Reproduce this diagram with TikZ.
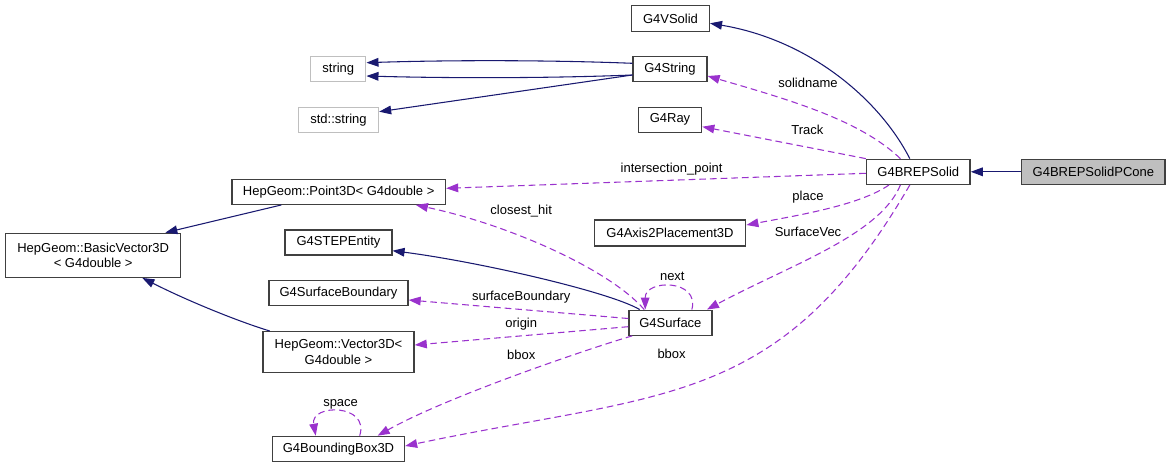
\documentclass[tikz,border=0pt]{standalone}
\usepackage{fontspec}
\setmainfont{Liberation Sans}
\usetikzlibrary{arrows.meta,calc}
\definecolor{navy}{HTML}{191970}
\definecolor{purp}{HTML}{9A32CD}
\definecolor{lgray}{HTML}{BFBFBF}
\begin{document}
\begin{tikzpicture}[x=0.75pt,y=-0.75pt,
 every node/.style={font=\fontsize{9.75}{11.5}\selectfont},
 box/.style={draw=black!75,line width=1pt,fill=white,inner sep=0pt,minimum height=18.75pt,align=center},
 ext/.style={box,draw=lgray},
 inh/.style={draw=navy,line width=0.8pt,-{Triangle[length=9pt,width=6.5pt]}},
 use/.style={draw=purp,line width=0.8pt,dash pattern=on 5pt off 3pt,-{Triangle[length=9pt,width=6.5pt]}},
 lab/.style={inner sep=0pt}]
\useasboundingbox (0,0) rectangle (1171,468);
% nodes
\node[box,minimum width=58.3pt,minimum height=19.5pt] (vsolid) at (670.5,18.7) {G4VSolid};
\node[box,minimum width=55.5pt] (g4string) at (670,69.2) {G4String};
\node[ext,minimum width=41.25pt] (string) at (338.3,69.2) {string};
\node[ext,minimum width=60pt] (stdstring) at (338.5,119.8) {std::string};
\node[box,minimum width=47.5pt] (ray) at (670,119.7) {G4Ray};
\node[box,minimum width=160.2pt] (point3d) at (338.7,191.8) {HepGeom::Point3D< G4double >};
\node[box,minimum width=77.7pt] (brep) at (918.3,171.8) {G4BREPSolid};
\node[box,fill=lgray,minimum width=107.4pt] (pcone) at (1093.4,171.8) {G4BREPSolidPCone};
\node[box,minimum width=113.6pt,minimum height=19.5pt] (axis) at (670,233) {G4Axis2Placement3D};
\node[box,minimum width=131.25pt,minimum height=33pt] (basic) at (93.2,255.3) {HepGeom::BasicVector3D\\< G4double >};
\node[box,minimum width=80.1pt] (step) at (338.5,242.5) {G4STEPEntity};
\node[box,minimum width=104.25pt] (sbound) at (338.5,293.3) {G4SurfaceBoundary};
\node[box,minimum width=62.25pt] (surface) at (670.4,322.7) {G4Surface};
\node[box,minimum width=113.4pt,minimum height=30.5pt] (vector) at (338.5,352) {HepGeom::Vector3D<\\G4double >};
\node[box,minimum width=99pt,minimum height=19pt] (bbox) at (338.5,449) {G4BoundingBox3D};
% inheritance
\draw[inh] (pcone.west) -- (brep.east);
\draw[inh] ($(brep.north)+(-8.5,0)$) .. controls (880,100) and (810,40) .. ($(vsolid.east)+(0,4.6)$);
\draw[inh] ($(g4string.west)+(0,-5.9)$) .. controls (550,60) and (450,60) .. ($(string.east)+(0,-6.5)$);
\draw[inh] ($(g4string.west)+(0,5.8)$) .. controls (550,78.3) and (450,78.3) .. ($(string.east)+(0,6.8)$);
\draw[inh] ($(g4string.west)+(0,5.8)$) -- ($(stdstring.east)+(0,-8.1)$);
\draw[inh] ($(surface.north west)+(11.4,0)$) .. controls (610,292) and (480,262) .. ($(step.east)+(0,8.2)$);
\draw[inh] ($(point3d.south)+(-57.4,0)$) -- ($(basic.north east)+(-16,0)$);
\draw[inh] ($(vector.north)+(-68.7,0)$) .. controls (240,322) and (190,302) .. ($(basic.south east)+(-39,0)$);
% usage
\draw[use] ($(brep.north)+(-17.9,0)$) .. controls (860,120) and (790,100) .. ($(g4string.east)+(0,6.8)$);
\node[lab] (lsolidname) at (808,83.3) {solidname};
\draw[use] (brep.north west) -- ($(ray.east)+(0,7)$);
\node[lab] (ltrack) at (807.3,130) {Track};
\draw[use] ($(brep.west)+(0,1.5)$) -- ($(point3d.east)+(0,-3.5)$);
\node[lab] (linter) at (671.6,169) {intersection\_point};
\draw[use] ($(brep.south)+(-29.3,0)$) .. controls (860,205) and (800,215) .. ($(axis.east)+(0,-8)$);
\node[lab] (lplace) at (808,197.3) {place};
\draw[use] ($(brep.south)+(-17.9,0)$) .. controls (880,235) and (790,265) .. ($(surface.north east)+(-5.6,0)$);
\node[lab] (lsurfvec) at (808,231.7) {SurfaceVec};
\draw[use] ($(brep.south)+(-8.5,0)$) .. controls (779.8,408.6) and (664.5,391.4) .. ($(bbox.east)+(0,-3)$);
\node[lab] (lbbox1) at (671.6,354.3) {bbox};
\draw[use] ($(surface.north west)+(16,0)$) .. controls (610,270) and (510,225) .. ($(point3d.south east)+(-30.3,0)$);
\node[lab] (lclosest) at (521.2,210.7) {closest\_hit};
\draw[use] ($(surface.north east)+(-20.7,0)$) .. controls (700,279) and (645,279) .. ($(surface.north west)+(17,0)$);
\node[lab] (lnext) at (672.3,276.7) {next};
\draw[use] ($(surface.west)+(0,-4.2)$) -- ($(sbound.east)+(0,6.7)$);
\node[lab] (lsb) at (521.2,296.7) {surfaceBoundary};
\draw[use] ($(surface.west)+(0,4)$) -- ($(vector.east)+(0,-7)$);
\node[lab] (lorigin) at (521.2,324) {origin};
\draw[use] ($(surface.south west)+(4,0)$) .. controls (600,345) and (450,395) .. ($(bbox.north east)+(-27.5,0)$);
\node[lab] (lbbox2) at (521.2,355) {bbox};
\draw[use] ($(bbox.north)+(21.2,0)$) .. controls (370,403.5) and (310,403.5) .. ($(bbox.north)+(-22.8,0)$);
\node[lab] (lspace) at (340.6,404) {space};
\end{tikzpicture}
\end{document}
